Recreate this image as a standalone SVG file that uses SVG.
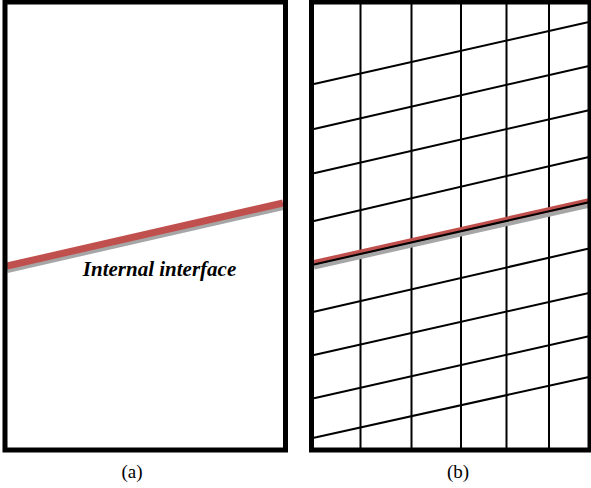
<svg xmlns="http://www.w3.org/2000/svg" width="591" height="488" viewBox="0 0 591 488">
<style>
.frame{fill:none;stroke:#000;stroke-width:5}
.grid{stroke:#000;stroke-width:2;fill:none}
.red{stroke:#c0504d;fill:none}
.shadow{stroke:#a6a6a6;fill:none}
.cap{font-family:"Liberation Serif","Times New Roman",serif;font-size:19px;fill:#000}
.lab{font-family:"Liberation Serif","Times New Roman",serif;font-size:21px;font-weight:bold;font-style:italic;fill:#000}
</style>
<rect width="591" height="488" fill="#fff"/>
<g id="panel-a">
  <line class="shadow" x1="7" y1="269.5" x2="283" y2="206.5" stroke-width="7"/>
  <line class="red" x1="7" y1="266" x2="283" y2="203" stroke-width="7"/>
  <rect class="frame" x="5" y="2" width="280.5" height="448"/>
  <text class="lab" x="159.5" y="276" text-anchor="middle">Internal interface</text>
</g>
<g id="panel-b">
  <g id="grid-lines" class="grid">
    <line x1="360.5" y1="0" x2="360.5" y2="450"/>
    <line x1="411.5" y1="0" x2="411.5" y2="450"/>
    <line x1="461" y1="0" x2="461" y2="450"/>
    <line x1="506.5" y1="0" x2="506.5" y2="450"/>
    <line x1="549" y1="0" x2="549" y2="450"/>
    <line x1="314" y1="84" x2="590" y2="21.7"/>
    <line x1="314" y1="129" x2="590" y2="65.7"/>
    <line x1="314" y1="173.3" x2="590" y2="110"/>
    <line x1="314" y1="221" x2="590" y2="156.7"/>
    <line x1="314" y1="311.7" x2="590" y2="248.3"/>
    <line x1="314" y1="355" x2="590" y2="292.7"/>
    <line x1="314" y1="398.3" x2="590" y2="336"/>
    <line x1="314" y1="437.7" x2="590" y2="376.7"/>
  </g>
  <g id="interface-b">
    <line class="shadow" x1="314" y1="267" x2="590" y2="205" stroke-width="5"/>
    <line class="red" x1="314" y1="262.5" x2="590" y2="200.5" stroke-width="5"/>
    <line class="grid" x1="314" y1="264.5" x2="590" y2="202"/>
  </g>
  <rect class="frame" x="311.5" y="2" width="278.5" height="448"/>
</g>
<g id="captions">
  <text class="cap" x="132" y="478" text-anchor="middle">(a)</text>
  <text class="cap" x="458" y="478" text-anchor="middle">(b)</text>
</g>
</svg>
